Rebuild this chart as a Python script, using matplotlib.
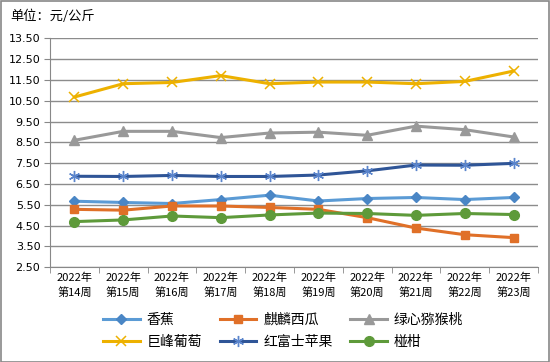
import matplotlib.pyplot as plt
import numpy as np

plt.rcParams['font.family'] = ['Noto Sans CJK SC', 'DejaVu Sans']

weeks = ['2022年\n第14周', '2022年\n第15周', '2022年\n第16周', '2022年\n第17周', '2022年\n第18周',
         '2022年\n第19周', '2022年\n第20周', '2022年\n第21周', '2022年\n第22周', '2022年\n第23周']
banana = [5.67, 5.61, 5.56, 5.75, 5.96, 5.68, 5.80, 5.85, 5.75, 5.85]
watermelon = [5.28, 5.24, 5.44, 5.44, 5.37, 5.28, 4.88, 4.38, 4.06, 3.92]
kiwi = [8.60, 9.03, 9.03, 8.73, 8.95, 8.99, 8.84, 9.28, 9.11, 8.76]
grape = [10.68, 11.32, 11.38, 11.71, 11.32, 11.40, 11.40, 11.32, 11.43, 11.93]
apple = [6.87, 6.86, 6.91, 6.86, 6.86, 6.93, 7.13, 7.41, 7.40, 7.49]
ponkan = [4.69, 4.77, 4.96, 4.88, 5.01, 5.10, 5.08, 4.99, 5.08, 5.03]

fig = plt.figure(figsize=(5.5, 3.62), dpi=100)
ax = fig.add_axes([0.091, 0.262, 0.887, 0.632])
x = np.arange(len(weeks))

l1, = ax.plot(x, banana, color='#5B9BD5', lw=2.2, marker='D', ms=5.5, mfc='#4A86C5', mec='#4A86C5', label='香蕉')
l2, = ax.plot(x, watermelon, color='#E07028', lw=2.2, marker='s', ms=5.5, mfc='#E07028', mec='#E07028', label='麒麟西瓜')
l3, = ax.plot(x, kiwi, color='#999999', lw=2.2, marker='^', ms=6.5, mfc='#999999', mec='#999999', label='绿心猕猴桃')
l4, = ax.plot(x, grape, color='#EDB100', lw=2.2, marker='x', ms=7, mew=1.1, mec='#EDB100', label='巨峰葡萄')
l5, = ax.plot(x, apple, color='#2F5597', lw=2.2, marker=(6, 2, 0), ms=8, mew=1.0, mec='#5B85CC', label='红富士苹果')
l6, = ax.plot(x, ponkan, color='#5E9A3A', lw=2.2, marker='o', ms=7, mfc='#5E9A3A', mec='#5E9A3A', label='椪柑')

ax.set_xlim(-0.5, 9.5)
ax.set_ylim(2.5, 13.5)
yt = np.arange(2.5, 13.51, 1.0)
ax.set_yticks(yt)
ax.set_yticklabels(['%.2f' % v for v in yt], fontsize=8, family='DejaVu Sans')
ax.set_xticks(x)
ax.set_xticklabels(weeks, fontsize=8, linespacing=1.4)
ax.set_xticks(np.arange(-0.5, 10, 1), minor=True)
ax.tick_params(axis='x', which='major', length=0, pad=4)
ax.tick_params(axis='x', which='minor', length=4, color='#888888')
ax.tick_params(axis='y', length=4, color='#888888', pad=3)
ax.grid(axis='y', color='#8c8c8c', lw=1)
ax.set_axisbelow(True)
for s in ['top', 'right']:
    ax.spines[s].set_visible(False)
for s in ['left', 'bottom']:
    ax.spines[s].set_color('#888888')

fig.text(0.018, 0.955, '单位：元/公斤', fontsize=9.5, va='center')

# column-major fill: order so rows read 香蕉/麒麟西瓜/绿心猕猴桃, 巨峰葡萄/红富士苹果/椪柑
handles = [l1, l4, l2, l5, l3, l6]
fig.legend(handles, [h.get_label() for h in handles], loc='upper left', bbox_to_anchor=(0.188, 0.135),
           ncol=3, frameon=False, fontsize=10, handlelength=2.6, columnspacing=1.3,
           handletextpad=0.5, labelspacing=0.55, borderaxespad=0, borderpad=0)

fig.patches.append(plt.Rectangle((0.001, 0.001), 0.997, 0.996, transform=fig.transFigure,
                                 fill=False, edgecolor='#888888', lw=1.2))

fig.savefig('out.png', dpi=100)
